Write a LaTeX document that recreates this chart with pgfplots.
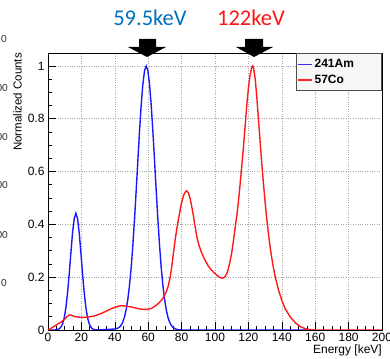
\documentclass[border=0pt]{standalone}
\usepackage{fontspec}
\setmainfont{Liberation Sans}
\newfontfamily\calibri{Carlito}
\usepackage{pgfplots}
\pgfplotsset{compat=1.18}
\definecolor{titleblue}{RGB}{0,112,192}
\definecolor{titlered}{RGB}{255,20,20}
\definecolor{curveblue}{RGB}{25,25,255}
\definecolor{curvered}{RGB}{255,25,25}

\pgfplotstableread{
x y
0 0
4 0
6.7 0.004
7.7 0.011
8.7 0.023
9.7 0.046
10.7 0.084
11.7 0.140
12.7 0.212
13.7 0.292
14.7 0.368
15.7 0.422
16.7 0.442
17.7 0.422
18.7 0.368
19.7 0.292
20.7 0.212
21.7 0.140
22.7 0.084
23.7 0.046
24.7 0.023
25.7 0.011
26.7 0.004
28 0.001
32 0.001
36 0.002
38 0.003
40 0.004
40.8 0.005
41.8 0.007
42.8 0.011
43.8 0.018
44.8 0.030
45.8 0.049
46.8 0.077
47.8 0.116
48.8 0.169
49.8 0.236
50.8 0.320
51.8 0.418
52.8 0.527
53.8 0.641
54.8 0.752
55.8 0.852
56.8 0.931
57.8 0.982
58.8 1.000
59.8 0.982
60.8 0.931
61.8 0.852
62.8 0.752
63.8 0.641
64.8 0.527
65.8 0.418
66.8 0.320
67.8 0.236
68.8 0.169
69.8 0.116
70.8 0.077
71.8 0.049
72.8 0.030
73.8 0.018
74.8 0.010
75.8 0.006
76.8 0.003
78 0.001
80 0
158 0
}\amdata

\pgfplotstableread{
x y
0 0
2 0.007
4 0.015
6 0.023
8 0.031
10 0.041
11 0.048
12 0.054
13 0.057
14 0.056
15 0.053
16 0.051
18 0.049
20 0.048
22 0.048
24 0.049
26 0.051
28 0.054
30 0.058
32 0.063
34 0.069
36 0.075
38 0.081
40 0.086
42 0.090
44 0.092
46 0.091
48 0.089
50 0.087
52 0.084
54 0.081
56 0.079
58 0.078
60 0.079
62 0.082
64 0.090
66 0.100
68 0.113
69.2 0.124
70 0.133
71 0.148
72 0.167
73 0.195
74 0.235
75 0.285
76 0.335
77 0.378
78 0.415
79 0.450
80 0.482
81 0.507
82 0.521
83 0.527
84 0.520
85 0.500
86 0.470
87 0.435
88 0.395
89 0.358
90 0.330
91 0.310
92 0.292
94 0.265
96 0.242
98 0.226
100 0.213
102 0.203
104 0.196
105 0.197
106 0.202
107 0.212
108 0.232
109 0.260
110 0.292
111 0.335
112 0.385
113 0.430
114 0.485
115 0.550
116 0.620
117 0.690
118 0.770
119 0.850
120 0.915
121 0.965
122 0.995
122.5 1.000
123 0.995
124 0.955
125 0.885
126 0.800
127 0.715
128 0.630
129 0.555
130 0.485
131 0.420
132 0.365
133 0.315
134 0.272
135 0.235
136 0.203
138 0.152
140 0.112
142 0.081
145 0.050
148 0.028
151 0.013
154 0.005
157 0.001
160 0
200 0
}\codata

\begin{document}
\begin{tikzpicture}
\useasboundingbox (-48pt,-28pt) rectangle (342pt,330pt);
\begin{axis}[
  scale only axis, width=334pt, height=277pt,
  at={(0pt,0pt)}, anchor=south west,
  xmin=0, xmax=200, ymin=0, ymax=1.049,
  xtick={0,20,40,60,80,100,120,140,160,180,200},
  ytick={0,0.2,0.4,0.6,0.8,1},
  minor x tick num=3, minor y tick num=3,
  tick align=inside, xtick pos=bottom, ytick pos=left,
  major tick length=8pt, minor tick length=4pt,
  grid=major, major grid style={gray!70, dotted, line width=0.6pt},
  axis line style={black, line width=0.8pt},
  tick style={black, line width=0.6pt},
  ticklabel style={font=\fontsize{12}{12}\selectfont, /pgf/number format/assume math mode=true},
  xlabel={Energy [keV]},
  xlabel style={at={(axis description cs:1,0)}, anchor=north east, yshift=-15pt, inner sep=0pt, font=\fontsize{12}{12}\selectfont},
  ylabel={Normalized Counts},
  ylabel style={at={(axis description cs:-0.1048,1)}, anchor=north east, inner sep=0pt, font=\fontsize{11.5}{12}\selectfont},
  legend style={at={(1,1)}, anchor=north east, draw=gray!60!black, fill=gray!6, line width=0.8pt, inner xsep=1pt, inner ysep=4pt, font=\bfseries\fontsize{12}{13}\selectfont, row sep=1.5pt},
  legend cell align=left,
  legend image code/.code={\draw[#1] (0pt,0pt) -- (14pt,0pt);},
]
\addplot[draw=curveblue, line width=1.4pt, forget plot] table[x=x, y=y] {\amdata};
\addplot[draw=curvered, line width=1.4pt, forget plot] table[x=x, y=y] {\codata};
\addlegendimage{color=blue!80!white, line width=1.6pt}
\addlegendentry{\makebox[64pt][l]{241Am}}
\addlegendimage{color=red!85!white, line width=1.6pt}
\addlegendentry{\makebox[64pt][l]{57Co}}
\end{axis}
% peak annotations
\node[anchor=base, text=titleblue, font=\calibri\fontsize{22.5}{24}\selectfont] at (102pt,304pt) {59.5keV};
\node[anchor=base, text=titlered, font=\calibri\fontsize{22.5}{24}\selectfont] at (203pt,304pt) {122keV};
\fill[black] (91pt,291pt) -- (108pt,291pt) -- (108pt,283pt) -- (118pt,283pt) -- (99pt,273pt) -- (80pt,283pt) -- (91pt,283pt) -- cycle;
\fill[black] (197pt,291pt) -- (215pt,291pt) -- (215pt,283pt) -- (225pt,283pt) -- (206pt,273pt) -- (188pt,283pt) -- (197pt,283pt) -- cycle;
% fragments of a neighbouring figure at the left edge
\foreach \yy in {242,193,145,95} {
  \node[anchor=east, inner sep=0pt, text=black!80, font=\calibri\fontsize{11}{11}\selectfont] at (-40pt,\yy pt) {00};
}
\node[anchor=east, inner sep=0pt, text=black!80, font=\calibri\fontsize{11}{11}\selectfont] at (-41pt,291pt) {0};
\node[anchor=east, inner sep=0pt, text=black!80, font=\calibri\fontsize{11}{11}\selectfont] at (-41pt,47pt) {0};
\end{tikzpicture}
\end{document}
